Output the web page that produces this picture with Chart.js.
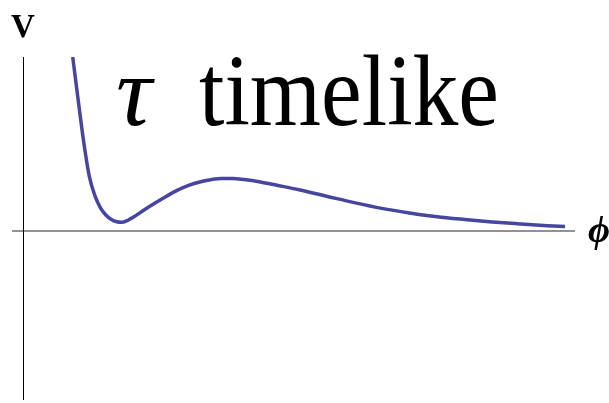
<!DOCTYPE html>
<html>
<head>
<meta charset="utf-8">
<title>V(phi)</title>
<script src="https://cdn.jsdelivr.net/npm/chart.js@4/dist/chart.umd.min.js"></script>
<style>
  html, body { margin: 0; padding: 0; background: #fff; }
  #wrap { width: 609px; height: 403px; }
</style>
</head>
<body>
<div id="wrap"><canvas id="potential"></canvas></div>
<script>
// potential V(phi)
const phiValues = [0.90, 1.00, 1.10, 1.20, 1.30, 1.40, 1.50, 1.60, 1.70, 1.78, 1.90, 2.00, 2.20, 2.40, 2.60, 2.80, 3.00, 3.20, 3.40, 3.60, 3.80, 4.00, 4.30, 4.60, 5.00, 5.50, 6.00, 6.50, 7.00, 7.50, 8.00, 8.50, 9.00, 9.50, 9.82];
const potValues = [10.0, 7.50, 5.10, 3.15, 2.05, 1.35, 0.92, 0.66, 0.53, 0.50, 0.62, 0.80, 1.22, 1.62, 2.00, 2.35, 2.62, 2.82, 2.95, 3.02, 3.02, 2.96, 2.82, 2.63, 2.37, 2.00, 1.63, 1.30, 1.04, 0.82, 0.66, 0.52, 0.41, 0.31, 0.26];
const phiRange = [-0.2, 10];
const potRange = [-9.71, 10];
const titleText = ['τ', 'timelike'];
const axisLabels = ['V', 'ϕ'];

const points = phiValues.map((x, i) => ({ x: x, y: potValues[i] }));

// axes through the origin plus the text labels
const axesPlugin = {
    id: 'axesThroughOrigin',
    beforeDatasetsDraw(chart) {
        const ctx = chart.ctx;
        const area = chart.chartArea;
        const x0 = Math.round(chart.scales.x.getPixelForValue(0)) + 0.5;
        const y0 = chart.scales.y.getPixelForValue(0);

        ctx.save();
        ctx.strokeStyle = '#6e6e6e';
        ctx.lineWidth = 1.6;
        ctx.beginPath();
        ctx.moveTo(area.left, y0);
        ctx.lineTo(area.right, y0);
        ctx.stroke();

        ctx.strokeStyle = '#000';
        ctx.lineWidth = 1;
        ctx.beginPath();
        ctx.moveTo(x0, area.top);
        ctx.lineTo(x0, area.bottom);
        ctx.stroke();
        ctx.restore();
    },
    afterDraw(chart) {
        const ctx = chart.ctx;
        const area = chart.chartArea;
        const x0 = chart.scales.x.getPixelForValue(0);
        const y0 = chart.scales.y.getPixelForValue(0);

        ctx.save();
        ctx.fillStyle = '#000';
        ctx.textBaseline = 'alphabetic';

        ctx.textAlign = 'center';
        ctx.font = 'bold 33px "Liberation Serif"';
        ctx.fillText(axisLabels[0], x0, 37);

        ctx.font = 'bold italic 38px "Liberation Serif"';
        ctx.fillText(axisLabels[1], area.right + 24, y0 + 11);

        ctx.textAlign = 'left';
        ctx.font = 'italic 100px "Liberation Serif"';
        ctx.fillText(titleText[0], 116, 125, 47);
        ctx.font = '102px "Liberation Serif"';
        ctx.fillText(titleText[1], 199, 125, 300);
        ctx.restore();
    }
};

new Chart(document.getElementById('potential').getContext('2d'), {
    type: 'scatter',
    data: {
        datasets: [{
            data: points,
            showLine: true,
            borderColor: '#4646a0',
            borderWidth: 3.5,
            pointRadius: 0,
            cubicInterpolationMode: 'monotone',
            fill: false
        }]
    },
    options: {
        responsive: true,
        maintainAspectRatio: false,
        animation: false,
        layout: {
            padding: { left: 12, right: 34, top: 57, bottom: 3 }
        },
        plugins: {
            legend: { display: false },
            tooltip: { enabled: false }
        },
        scales: {
            x: { type: 'linear', display: false, min: phiRange[0], max: phiRange[1] },
            y: { type: 'linear', display: false, min: potRange[0], max: potRange[1] }
        }
    },
    plugins: [axesPlugin]
});
</script>
</body>
</html>
